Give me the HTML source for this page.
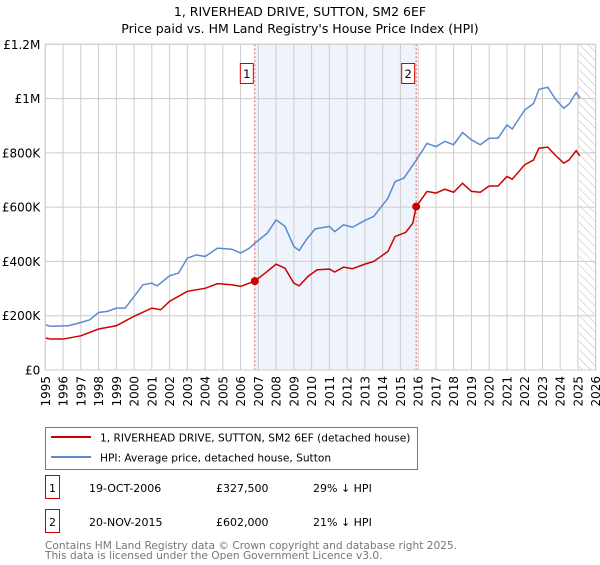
<!DOCTYPE html>
<html><head><meta charset="utf-8"><style>
body{margin:0;background:#fff;font-family:"Liberation Sans","DejaVu Sans",sans-serif;}
svg text{font-family:"DejaVu Sans","Liberation Sans",sans-serif;}
</style></head><body>
<svg id="chart" width="600" height="560" xmlns="http://www.w3.org/2000/svg">
<defs><pattern id="hatch" width="6" height="6" patternUnits="userSpaceOnUse" patternTransform="rotate(-45)"><line x1="0" y1="0" x2="0" y2="6" stroke="#bbb" stroke-width="1"/></pattern></defs>
<text x="300" y="16" text-anchor="middle" font-size="12.5" fill="#000">1, RIVERHEAD DRIVE, SUTTON, SM2 6EF</text>
<text x="300" y="33" text-anchor="middle" font-size="12.5" fill="#000">Price paid vs. HM Land Registry's House Price Index (HPI)</text>
<g id="plot"></g>
<g>
<rect x="45.5" y="427.5" width="372" height="42" fill="#fff" stroke="#777"/>
<line x1="51" y1="437" x2="91" y2="437" stroke="#cc0000" stroke-width="2"/>
<text x="100" y="441.5" font-size="10.6">1, RIVERHEAD DRIVE, SUTTON, SM2 6EF (detached house)</text>
<line x1="51" y1="457" x2="91" y2="457" stroke="#5b8bd0" stroke-width="2"/>
<text x="100" y="461.5" font-size="10.6">HPI: Average price, detached house, Sutton</text>
</g>
<g>
<rect x="45.5" y="475.5" width="14" height="23" fill="#fff" stroke="#cc0000"/>
<text x="52.5" y="492" text-anchor="middle" font-size="11">1</text>
<text x="89" y="492" font-size="11">19-OCT-2006</text>
<text x="216" y="492" font-size="11">£327,500</text>
<text x="313" y="492" font-size="11">29% ↓ HPI</text>
<rect x="45.5" y="509.5" width="14" height="23" fill="#fff" stroke="#cc0000"/>
<text x="52.5" y="526" text-anchor="middle" font-size="11">2</text>
<text x="89" y="526" font-size="11">20-NOV-2015</text>
<text x="216" y="526" font-size="11">£602,000</text>
<text x="313" y="526" font-size="11">21% ↓ HPI</text>
</g>
<text x="45" y="549" font-size="10.6" fill="#777">Contains HM Land Registry data © Crown copyright and database right 2025.</text>
<text x="45" y="559" font-size="10.6" fill="#777">This data is licensed under the Open Government Licence v3.0.</text>
</svg>
<script>
const hpiYears=[1995,1995.3,1996.3,1997,1997.5,1998,1998.5,1999,1999.5,2000,2000.5,2001,2001.3,2002,2002.5,2003,2003.5,2004,2004.7,2005.5,2006,2006.5,2006.8,2007.5,2008,2008.5,2009,2009.3,2009.7,2010.2,2011,2011.3,2011.8,2012.3,2013,2013.5,2014.3,2014.7,2015.2,2015.9,2016.5,2017,2017.5,2018,2018.5,2019,2019.5,2020,2020.5,2021,2021.3,2022,2022.5,2022.8,2023.3,2023.7,2024.2,2024.5,2024.9,2025.1];
const hpiValues=[167,161,163,175,185,212,216,228,228,271,314,320,310,347,357,412,424,418,449,445,431,449,467,504,553,529,455,440,480,520,529,510,535,526,551,566,633,694,707,774,835,823,842,830,875,848,830,854,854,903,888,958,982,1034,1042,1001,964,980,1022,1001];
const propYears=[1995,1995.3,1996,1997,1998,1999,2000,2001,2001.5,2002,2003,2004,2004.7,2005.5,2006,2006.8,2007.5,2008,2008.5,2009,2009.3,2009.8,2010.3,2011,2011.3,2011.8,2012.3,2013,2013.5,2014.3,2014.7,2015.3,2015.7,2015.89,2016.5,2017,2017.5,2018,2018.5,2019,2019.5,2020,2020.5,2021,2021.3,2022,2022.5,2022.8,2023.3,2023.7,2024.2,2024.5,2024.9,2025.1];
const propValues=[118,114,114,126,151,163,198,228,222,253,290,301,318,314,308,327.5,363,390,375,320,310,345,369,372,361,379,373,390,400,437,492,507,541,602,658,652,666,655,688,658,655,678,678,713,703,756,774,817,821,793,762,774,808,789];
const saleYears=[2006.8,2015.89];
const saleValues=[327.5,602];
const saleLabels=["1","2"];
const yTicks=[0,200,400,600,800,1000,1200];
const yTickLabels=["£0","£200K","£400K","£600K","£800K","£1M","£1.2M"];
const xTicks=[];for(let y=1995;y<=2026;y++)xTicks.push(y);

const L=45.3,R=595.7,T=44.3,B=370;
const X=y=>L+(y-1995)*(R-L)/31;
const Y=v=>B-v*(B-T)/1200;
const ns="http://www.w3.org/2000/svg";
const g=document.getElementById('plot');
function mk(t,a,p){const e=document.createElementNS(ns,t);for(const k in a)e.setAttribute(k,a[k]);(p||g).appendChild(e);return e;}

const shade=mk('rect',{x:X(saleYears[0]),y:T,width:X(saleYears[1])-X(saleYears[0]),height:B-T,fill:'#eef3fc'});


const hatch=mk('rect',{x:X(2025.05),y:T,width:R-X(2025.05),height:B-T,fill:'url(#hatch)'});



xTicks.forEach(yr=>{
  const l=mk('line',{x1:X(yr),x2:X(yr),y1:T,y2:B,stroke:'#ccc','stroke-width':1});
  
  
  const t=mk('text',{x:0,y:0,'font-size':'12','text-anchor':'end',transform:`translate(${X(yr)+4.5},${B+6}) rotate(-90)`});
  
  
  t.textContent=yr;
});
yTicks.forEach((v,i)=>{
  const l=mk('line',{x1:L,x2:R,y1:Y(v),y2:Y(v),stroke:'#ccc','stroke-width':1});
  
  
  const t=mk('text',{x:L-5,y:Y(v)+4.5,'font-size':'12','text-anchor':'end'});
  
  
  t.textContent=yTickLabels[i];
});
const hpi=mk('polyline',{points:hpiYears.map((y,i)=>X(y)+','+Y(hpiValues[i])).join(' '),fill:'none',stroke:'#5b8bd0','stroke-width':1.5});


const prop=mk('polyline',{points:propYears.map((y,i)=>X(y)+','+Y(propValues[i])).join(' '),fill:'none',stroke:'#cc0000','stroke-width':1.5});


saleYears.forEach((y,i)=>{
  const l=mk('line',{x1:X(y),x2:X(y),y1:T,y2:B,stroke:'#e06060','stroke-width':1,'stroke-dasharray':'2,2'});
  
  
  const c=mk('circle',{cx:X(y),cy:Y(saleValues[i]),r:4,fill:'#cc0000'});
  
  
  const b=mk('rect',{x:X(y)-14.5,y:63.5,width:13,height:20,fill:'#fff',stroke:'#cc0000'});
  
  
  const t=mk('text',{x:X(y)-8,y:78,'font-size':'11.5','text-anchor':'middle'});
  
  
  t.textContent=saleLabels[i];
});
const frame=mk('rect',{x:L,y:T,width:R-L,height:B-T,fill:'none',stroke:'#ccc'});


</script>
</body></html>
